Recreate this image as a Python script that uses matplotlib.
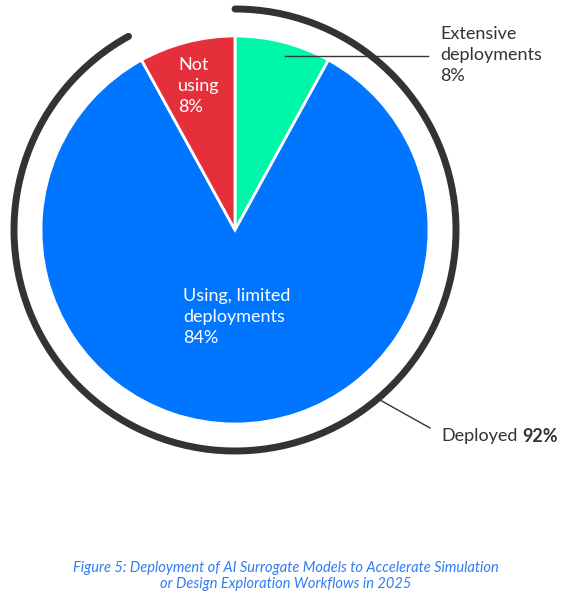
import matplotlib.pyplot as plt
from matplotlib.patches import Arc

# data
labels = ["Extensive\ndeployments", "Using, limited\ndeployments", "Not\nusing"]
shares = [8, 84, 8]
colors = ["#00F7AA", "#0075FF", "#E5303C"]
deployed = shares[0] + shares[1]

plt.rcParams['font.family'] = ['Lato', 'DejaVu Sans']

W, H = 574, 594
fig = plt.figure(figsize=(W / 100, H / 100), dpi=100)
ax = fig.add_axes([0, 0, 1, 1])

cx, cy, r = 235, H - 230, 194
ax.pie(shares, colors=colors, startangle=90, counterclock=False,
       center=(cx, cy), radius=r, frame=True,
       wedgeprops=dict(edgecolor='white', linewidth=2))
ax.set_xlim(0, W)
ax.set_ylim(0, H)
ax.set_aspect('auto')
ax.axis('off')

# outer arc around deployed share
ra = 221
arc = Arc((cx, cy), 2 * ra, 2 * ra, theta1=90 - deployed / 100 * 360, theta2=90,
          color='#333333', linewidth=5, capstyle='round')
ax.add_patch(arc)

dark = '#333333'
fs = 13
ls = 1.38
# inside labels
ax.text(178, H - 86, "Not\nusing\n%d%%" % shares[2], color='white', fontsize=fs,
        ha='left', va='center', linespacing=ls)
ax.text(183, H - 317, "%s\n%d%%" % (labels[1], shares[1]), color='white', fontsize=fs,
        ha='left', va='center', linespacing=ls)

# extensive callout
ax.plot([285, 428], [H - 56, H - 56], color=dark, linewidth=1)
ax.text(440, H - 55, "%s\n%d%%" % (labels[0], shares[0]), color=dark, fontsize=fs,
        ha='left', va='center', linespacing=ls)

# deployed callout
ax.plot([380, 430], [H - 400, H - 428], color=dark, linewidth=1)
t = ax.text(441, H - 436, "Deployed", color=dark, fontsize=fs, ha='left', va='center')
fig.canvas.draw()
bb = t.get_window_extent()
ax.text(bb.x1 + 5, H - 436, "%d%%" % deployed, color=dark, fontsize=fs, fontweight='bold',
        ha='left', va='center')

caption = ("Figure 5: Deployment of AI Surrogate Models to Accelerate Simulation\n"
           "or Design Exploration Workflows in 2025")
ax.text(286, H - 576, caption, color='#2F7CF6', fontsize=10.5, style='italic',
        ha='center', va='center', linespacing=1.25)

fig.savefig('out.png', dpi=100)
